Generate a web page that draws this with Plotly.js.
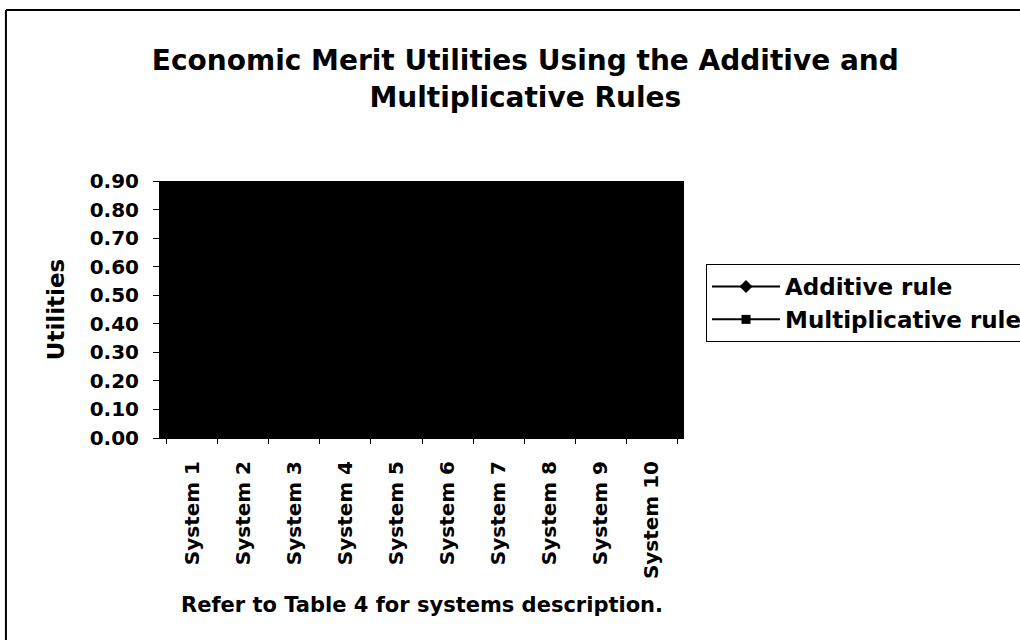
<!DOCTYPE html>
<html>
<head>
<meta charset="utf-8">
<script src="https://cdn.plot.ly/plotly-3.0.1.min.js"></script>
<style>html,body{margin:0;padding:0;background:#fff;}#chart{width:1020px;height:640px;}</style>
</head>
<body>
<div id="chart"></div>
<script>
const systems = ["System 1","System 2","System 3","System 4","System 5","System 6","System 7","System 8","System 9","System 10"];
const additiveRule = [0.55, 0.62, 0.48, 0.70, 0.58, 0.45, 0.66, 0.52, 0.60, 0.50];
const multiplicativeRule = [0.30, 0.38, 0.25, 0.45, 0.33, 0.22, 0.41, 0.28, 0.11, 0.26];
const yTicks = [0, 0.1, 0.2, 0.3, 0.4, 0.5, 0.6, 0.7, 0.8, 0.9];

const F = 'DejaVu Sans, Arial, sans-serif';

const traces = [
  {x: systems, y: additiveRule, name: 'Additive rule', type: 'scatter', mode: 'lines+markers',
   line: {color: '#000', width: 2}, marker: {symbol: 'diamond', size: 10, color: '#000'}},
  {x: systems, y: multiplicativeRule, name: 'Multiplicative rule', type: 'scatter', mode: 'lines+markers',
   line: {color: '#000', width: 2}, marker: {symbol: 'square', size: 9, color: '#000'}}
];

const layout = {
  width: 1020, height: 640,
  margin: {l: 160, r: 336, t: 181, b: 202, autoexpand: false},
  paper_bgcolor: '#fff', plot_bgcolor: '#000',
  font: {family: F, color: '#000', weight: 'bold'},
  title: {text: 'Economic Merit Utilities Using the Additive and<br>Multiplicative Rules',
          font: {family: F, size: 28, weight: 'bold', color: '#000'},
          x: 0.515, xanchor: 'center', xref: 'container', y: 0.89, yanchor: 'middle', yref: 'container'},
  xaxis: {type: 'category', tickangle: -90, showline: true, linecolor: '#000', linewidth: 1,
          ticks: 'outside', ticklen: 5, tickcolor: '#000', tickson: 'boundaries', showgrid: false,
          tickfont: {family: F, size: 20, weight: 'bold', color: '#000'}, ticklabelstandoff: 14,
          zeroline: false, fixedrange: true},
  yaxis: {range: [0, 0.9], tickvals: yTicks, tickformat: '.2f', showline: true, linecolor: '#000',
          ticks: 'outside', ticklen: 6, tickcolor: '#000', showgrid: false, zeroline: false,
          tickfont: {family: F, size: 20, weight: 'bold', color: '#000'}, ticklabelstandoff: 10,
          title: {text: 'Utilities', font: {family: F, size: 23, weight: 'bold', color: '#000'}, standoff: 18},
          fixedrange: true},
  showlegend: true,
  legend: {x: 1.042, y: 0.677, xanchor: 'left', yanchor: 'top', bordercolor: '#000', borderwidth: 1,
           bgcolor: '#fff', font: {family: F, size: 23, weight: 'bold', color: '#000'},
           itemwidth: 68, tracegroupgap: 0},
  annotations: [
    {text: 'Refer to Table 4 for systems description.', xref: 'paper', yref: 'paper',
     x: 0.5, y: (438 - 605) / 257, xanchor: 'center', yanchor: 'middle', showarrow: false,
     font: {family: F, size: 21, weight: 'bold', color: '#000'}}
  ],
  shapes: [
    {type: 'line', xref: 'paper', yref: 'paper', x0: -0.294, x1: -0.294, y0: 1.665, y1: -0.8,
     line: {color: '#000', width: 2}},
    {type: 'line', xref: 'paper', yref: 'paper', x0: -0.294, x1: 1.65, y0: 1.665, y1: 1.665,
     line: {color: '#000', width: 2}}
  ]
};

Plotly.newPlot('chart', traces, layout, {displayModeBar: false, staticPlot: true});
</script>
</body>
</html>
